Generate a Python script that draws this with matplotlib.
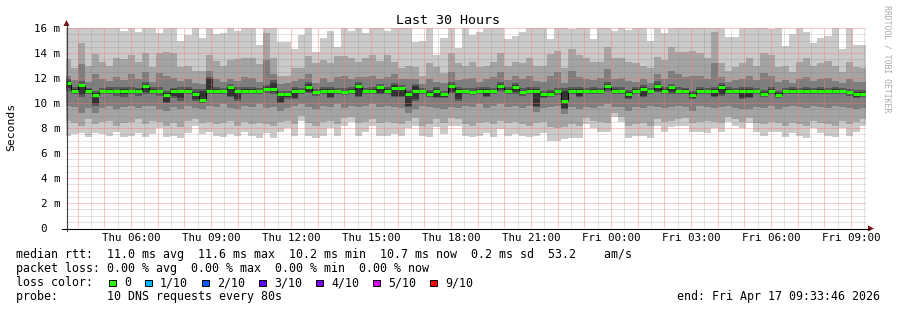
import numpy as np
import matplotlib
matplotlib.use('Agg')
import matplotlib.pyplot as plt
from matplotlib.transforms import blended_transform_factory, offset_copy
from matplotlib.patches import Polygon, Rectangle
from matplotlib.lines import Line2D
import datetime as dt

W, H = 897, 310
FONT = 'DejaVu Sans Mono'

# ---------------- data ----------------
start = dt.datetime(2026, 4, 16, 3, 33, 46)
end = dt.datetime(2026, 4, 17, 9, 33, 46)
step_s = 960          # consolidation step of each smoke column
first_edge_s = 634    # seconds from start to first column boundary

# light band top (ping 10)
t1 = [16, 16, 16, 16, 16, 16, 16, 16, 15.8, 16, 15.7, 16, 16, 15.6, 16, 16, 15.0, 15.4, 16, 15.2, 16, 15.5, 15.6, 16,
      15.75, 16, 16, 14.6, 16, 16, 14.9, 14.9, 14.3, 15.4, 16, 14.1, 15.2, 15.75, 14.5, 16, 15.75, 16, 15.6, 16, 16, 15.75,
      16, 16, 16, 14.9, 15.0, 16, 13.8, 15.2, 16, 14.4, 16, 15.4, 15.7, 16, 16, 16, 15.1, 15.4, 15.7, 16, 16, 16, 15.1,
      16, 16, 15.9, 16, 16, 15.1, 16, 16, 15.8, 16, 15.85, 16, 16, 15.0, 16, 15.6, 16, 16, 16, 16, 16, 16,
      16, 16, 15.3, 15.3, 16, 16, 16, 16, 15.9, 16, 14.6, 15.5, 16, 15.7, 14.8, 15.2, 15.4, 16, 14.3, 16, 14.6, 14.65]
# ping 9
t2 = [13.5, 12.8, 14.8, 13.0, 13.9, 13.3, 13.0, 13.6, 13.5, 13.8, 13.3, 14.0, 12.9, 14.0, 14.1, 14.0, 12.9, 13.0, 12.6, 12.6, 13.8, 13.4, 13.0, 13.4,
      13.5, 13.6, 13.6, 13.1, 15.6, 13.6, 12.2, 12.2, 12.8, 12.8, 13.8, 13.2, 13.4, 13.2, 13.8, 13.8, 13.6, 13.3, 13.6, 13.8, 13.4, 13.8,
      13.3, 12.8, 13.0, 12.9, 12.2, 13.2, 12.9, 12.4, 14.0, 13.2, 13.0, 13.3, 12.9, 13.0, 13.3, 14.0, 13.0, 13.3, 13.2, 13.6, 13.0, 13.0, 13.9,
      14.2, 12.8, 14.3, 13.8, 13.6, 13.3, 13.3, 14.5, 13.6, 13.6, 13.3, 13.2, 13.0, 12.8, 13.7, 13.4, 14.5, 14.1, 14.1, 14.2, 14.0, 13.6,
      15.7, 13.2, 12.6, 12.9, 13.2, 13.6, 13.0, 14.0, 13.8, 12.9, 13.0, 12.5, 13.3, 13.6, 13.0, 13.2, 13.4, 13.0, 12.5, 13.3, 12.9, 12.8]
# ping 8
t3 = [12.2, 11.8, 13.1, 11.7, 12.3, 11.9, 11.8, 12.1, 11.8, 12.3, 11.9, 12.5, 11.7, 12.4, 12.2, 12.0, 11.8, 11.9, 11.6, 11.5, 12.6, 11.9, 11.7, 11.9,
      11.8, 12.1, 12.0, 11.7, 13.4, 12.3, 11.5, 11.6, 11.8, 11.9, 12.3, 11.6, 12.0, 11.7, 12.1, 12.2, 11.9, 12.1, 12.1, 12.2, 11.9, 12.1,
      12.3, 11.9, 11.9, 11.9, 11.5, 11.9, 11.7, 11.6, 12.5, 11.8, 11.9, 12.0, 11.7, 11.9, 12.1, 12.5, 11.8, 12.2, 11.9, 12.2, 11.8, 11.7, 12.2,
      12.5, 11.6, 12.6, 12.1, 11.9, 11.8, 12.0, 12.7, 11.9, 12.0, 11.8, 11.7, 11.9, 11.6, 12.3, 11.9, 12.6, 12.3, 12.1, 12.2, 12.2, 11.9,
      13.2, 12.1, 11.7, 11.8, 11.9, 12.2, 11.8, 12.4, 12.2, 11.7, 11.8, 11.6, 11.9, 12.1, 11.8, 11.9, 12.0, 11.8, 11.6, 11.9, 11.7, 11.7]
# ping 7
t4 = [11.9, 11.25, 11.8, 11.2, 11.0, 11.2, 11.3, 11.3, 11.25, 11.3, 11.2, 11.7, 11.25, 11.3, 11.0, 11.2, 11.3, 11.25, 11.1, 11.1, 12.1, 11.3, 11.2, 11.55,
      11.25, 11.3, 11.3, 11.2, 11.45, 11.8, 11.0, 11.0, 11.3, 11.2, 11.65, 11.1, 11.3, 11.25, 11.2, 11.2, 11.3, 11.7, 11.2, 11.3, 11.55, 11.25,
      11.6, 11.45, 11.05, 11.55, 11.2, 11.05, 11.3, 11.0, 11.65, 11.25, 11.2, 11.2, 11.3, 11.25, 11.2, 11.65, 11.25, 11.6, 11.2, 11.3, 11.25, 11.0, 11.05,
      11.2, 11.2, 11.3, 11.25, 11.2, 11.3, 11.2, 11.7, 11.25, 11.3, 11.05, 11.25, 11.45, 11.2, 11.75, 11.25, 11.55, 11.3, 11.2, 11.0, 11.3, 11.2,
      11.3, 11.6, 11.25, 11.2, 11.3, 11.25, 11.2, 11.05, 11.3, 11.0, 11.2, 11.3, 11.2, 11.3, 11.2, 11.3, 11.2, 11.3, 11.2, 11.15, 11.05, 11.0]
# ping 6
t5 = [11.75, 11.1, 11.55, 11.1, 10.8, 11.05, 11.1, 11.05, 11.15, 11.05, 11.1, 11.5, 11.1, 11.05, 10.8, 11.1, 11.05, 11.1, 10.9, 10.95, 12.0, 11.1, 11.05, 11.35,
      11.05, 11.15, 11.1, 11.05, 11.25, 11.6, 10.8, 10.8, 11.1, 11.05, 11.5, 10.95, 11.1, 11.1, 11.05, 11.0, 11.1, 11.5, 11.05, 11.1, 11.4, 11.1,
      11.45, 11.3, 10.85, 11.4, 11.05, 10.85, 11.1, 10.8, 11.5, 11.1, 11.05, 11.0, 11.1, 11.1, 11.05, 11.5, 11.1, 11.45, 11.0, 11.1, 11.1, 10.8, 10.85,
      11.05, 11.0, 11.1, 11.1, 11.05, 11.1, 11.05, 11.5, 11.1, 11.05, 10.85, 11.1, 11.3, 11.05, 11.55, 11.1, 11.4, 11.05, 11.1, 10.8, 11.1, 11.05,
      11.1, 11.4, 11.1, 11.05, 11.1, 11.1, 11.05, 10.85, 11.1, 10.8, 11.05, 11.1, 11.05, 11.1, 11.05, 11.1, 11.05, 11.1, 11.05, 11.0, 10.85, 10.85]
# median rtt (ms)
med = [11.6, 11.0, 11.45, 11.0, 10.65, 11.0, 11.0, 11.0, 11.0, 11.0, 11.0, 11.4, 11.0, 11.0, 10.65, 11.0, 11.0, 11.0, 10.75, 10.25, 11.0, 11.0, 11.0, 11.25,
       11.0, 11.0, 11.0, 11.0, 11.15, 11.15, 10.7, 10.7, 11.0, 11.0, 11.3, 10.85, 11.0, 11.0, 11.0, 10.9, 11.0, 11.4, 11.0, 11.0, 11.3, 11.0,
       11.2, 11.2, 10.75, 11.0, 11.0, 10.75, 11.0, 10.7, 11.4, 11.0, 11.0, 10.9, 11.0, 11.0, 11.0, 11.4, 11.0, 11.3, 10.9, 11.0, 11.0, 10.7, 10.75,
       10.95, 10.2, 11.0, 11.0, 11.0, 11.0, 11.0, 11.4, 11.0, 11.0, 10.75, 11.0, 11.1, 11.0, 11.4, 11.0, 11.3, 11.0, 11.0, 10.67, 11.0, 11.0,
       11.0, 11.3, 11.0, 11.0, 11.0, 11.0, 11.0, 10.75, 11.0, 10.67, 11.0, 11.0, 11.0, 11.0, 11.0, 11.0, 11.0, 11.0, 11.0, 10.9, 10.75, 10.75]
# ping 5
b5 = [11.2, 10.9, 10.75, 10.8, 9.9, 10.9, 10.85, 10.9, 10.7, 10.9, 10.85, 10.85, 10.9, 10.85, 10.1, 10.55, 10.4, 10.9, 10.3, 10.15, 10.85, 10.9, 10.85, 10.6,
      10.3, 10.9, 10.85, 10.9, 11.0, 10.85, 10.1, 10.5, 10.4, 10.9, 10.9, 10.7, 10.9, 10.5, 10.85, 10.8, 10.9, 10.6, 10.85, 10.9, 10.8, 10.85,
      10.6, 10.6, 9.8, 10.3, 10.9, 10.6, 10.5, 10.5, 10.9, 10.3, 10.85, 10.8, 10.9, 10.6, 10.9, 11.1, 10.9, 10.9, 10.75, 10.85, 9.8, 10.5, 10.6,
      10.8, 9.6, 10.9, 10.6, 10.9, 10.85, 10.9, 11.1, 10.9, 10.85, 10.4, 10.9, 10.6, 10.85, 11.0, 10.9, 10.9, 10.85, 10.9, 10.4, 10.9, 10.85,
      10.6, 10.7, 10.9, 10.85, 10.4, 10.5, 10.9, 10.6, 10.85, 10.5, 10.9, 10.85, 10.9, 10.85, 10.9, 10.85, 10.9, 10.85, 10.9, 10.75, 10.5, 10.55]
# ping 4
b4 = [10.95, 10.7, 10.5, 10.7, 9.8, 10.7, 10.7, 10.6, 10.5, 10.7, 10.6, 10.7, 10.7, 10.6, 10.0, 10.4, 10.2, 10.7, 10.2, 10.0, 10.7, 10.7, 10.7, 10.45,
      10.2, 10.7, 10.7, 10.75, 10.8, 10.7, 10.0, 10.35, 10.3, 10.75, 10.8, 10.55, 10.7, 10.4, 10.7, 10.65, 10.75, 10.5, 10.7, 10.7, 10.7, 10.7,
      10.5, 10.45, 9.7, 10.2, 10.7, 10.45, 10.4, 10.4, 10.8, 10.2, 10.7, 10.65, 10.75, 10.5, 10.7, 10.95, 10.75, 10.75, 10.6, 10.7, 9.7, 10.4, 10.5,
      10.65, 9.5, 10.75, 10.45, 10.75, 10.7, 10.75, 10.95, 10.7, 10.7, 10.3, 10.75, 10.5, 10.7, 10.85, 10.75, 10.75, 10.7, 10.75, 10.3, 10.75, 10.7,
      10.5, 10.6, 10.75, 10.7, 10.3, 10.4, 10.75, 10.5, 10.7, 10.4, 10.75, 10.7, 10.75, 10.7, 10.75, 10.7, 10.75, 10.7, 10.75, 10.6, 10.4, 10.45]
# ping 3
b3 = [9.8, 9.7, 9.2, 9.6, 9.2, 9.6, 9.8, 9.5, 9.7, 9.8, 9.6, 9.8, 9.8, 9.5, 9.4, 9.7, 9.5, 9.8, 9.6, 9.5, 9.8, 9.7, 9.9, 9.6,
      9.5, 9.8, 9.7, 9.9, 9.6, 9.7, 9.4, 9.6, 9.8, 9.9, 9.7, 9.5, 9.8, 9.7, 9.9, 9.6, 9.8, 9.7, 9.8, 9.9, 9.7, 9.8,
      9.7, 9.6, 9.2, 9.5, 9.8, 9.7, 9.6, 9.5, 9.7, 9.6, 9.8, 9.7, 9.9, 9.6, 9.8, 9.9, 9.7, 9.8, 9.6, 9.8, 9.3, 9.6, 9.7,
      9.8, 9.1, 9.7, 9.5, 9.7, 9.6, 9.8, 9.9, 9.7, 9.7, 9.4, 9.7, 9.6, 9.8, 9.7, 9.6, 9.7, 9.8, 9.7, 9.4, 9.8, 9.7,
      9.6, 9.7, 9.8, 9.6, 9.5, 9.5, 9.7, 9.6, 9.8, 9.5, 9.7, 9.8, 9.7, 9.6, 9.8, 9.7, 9.6, 9.8, 9.7, 9.6, 9.5, 9.6]
# ping 2
b2 = [8.6, 8.4, 8.2, 8.7, 8.3, 8.5, 8.6, 8.2, 8.4, 8.5, 8.7, 8.3, 8.6, 8.5, 8.2, 8.4, 8.1, 8.6, 8.7, 8.4, 8.5, 8.3, 8.4, 8.6,
      8.2, 8.5, 8.3, 8.4, 8.3, 8.2, 8.5, 8.6, 8.3, 9.0, 8.4, 8.2, 8.5, 8.6, 8.3, 8.8, 8.9, 8.4, 8.5, 8.7, 8.4, 8.5,
      8.4, 8.3, 8.6, 8.8, 8.2, 8.3, 8.7, 8.4, 8.8, 8.7, 8.3, 8.2, 8.4, 8.5, 8.3, 8.6, 8.4, 8.5, 8.3, 8.2, 8.4, 8.5, 8.1,
      8.0, 8.1, 8.3, 8.2, 8.8, 8.6, 8.5, 8.4, 9.2, 8.9, 8.2, 8.3, 8.4, 8.2, 8.7, 8.5, 8.6, 8.7, 8.8, 8.4, 8.5, 8.6,
      8.5, 8.4, 8.9, 8.7, 8.5, 8.8, 8.4, 8.3, 8.5, 8.4, 8.2, 8.4, 8.3, 8.2, 8.6, 8.4, 8.3, 8.2, 8.6, 8.3, 8.5, 8.7]
# ping 1 (light band bottom)
b1 = [7.4, 7.5, 7.6, 7.3, 7.6, 7.5, 7.4, 7.7, 7.3, 7.4, 7.6, 7.3, 7.5, 8.0, 7.3, 7.4, 7.2, 7.6, 8.2, 7.5, 7.7, 7.4, 7.3, 7.5,
      7.4, 7.7, 7.4, 7.2, 7.6, 7.2, 7.7, 8.0, 7.4, 8.6, 7.4, 7.2, 7.4, 8.0, 7.4, 8.2, 8.5, 7.4, 7.7, 8.2, 7.4, 7.4,
      7.5, 7.4, 8.0, 8.2, 7.4, 7.3, 8.1, 7.5, 8.2, 8.2, 7.4, 7.3, 7.4, 7.6, 7.3, 7.9, 7.4, 7.5, 7.4, 7.3, 7.4, 7.6, 7.0,
      7.0, 7.1, 7.2, 7.2, 8.3, 8.0, 7.7, 7.7, 8.9, 8.5, 7.2, 7.4, 7.4, 7.2, 8.2, 7.7, 8.1, 8.2, 8.2, 7.7, 7.7, 7.6,
      8.0, 7.7, 8.5, 8.2, 8.0, 8.4, 7.7, 7.4, 7.7, 7.7, 7.3, 7.6, 7.4, 7.2, 8.0, 7.6, 7.4, 7.3, 8.0, 7.4, 7.7, 8.2]

xtick_labels = ['Thu 06:00', 'Thu 09:00', 'Thu 12:00', 'Thu 15:00', 'Thu 18:00',
                'Thu 21:00', 'Fri 00:00', 'Fri 03:00', 'Fri 06:00', 'Fri 09:00']
xtick_times = [dt.datetime(2026, 4, 16, 6), dt.datetime(2026, 4, 16, 9), dt.datetime(2026, 4, 16, 12),
               dt.datetime(2026, 4, 16, 15), dt.datetime(2026, 4, 16, 18), dt.datetime(2026, 4, 16, 21),
               dt.datetime(2026, 4, 17, 0), dt.datetime(2026, 4, 17, 3), dt.datetime(2026, 4, 17, 6),
               dt.datetime(2026, 4, 17, 9)]
ytick_values = [0, 2, 4, 6, 8, 10, 12, 14, 16]
ytick_labels = ['0', '2 m', '4 m', '6 m', '8 m', '10 m', '12 m', '14 m', '16 m']

loss_labels = ['0', '1/10', '2/10', '3/10', '4/10', '5/10', '9/10']
loss_colors = ['#26ff00', '#00b8ff', '#0059ff', '#5e00ff', '#7e00ff', '#dd00ff', '#ff0000']

legend_median = 'median rtt:  11.0 ms avg  11.6 ms max  10.2 ms min  10.7 ms now  0.2 ms sd  53.2    am/s'
legend_loss = 'packet loss: 0.00 % avg  0.00 % max  0.00 % min  0.00 % now'
legend_probe = 'probe:       10 DNS requests every 80s'
legend_end = 'end: Fri Apr 17 09:33:46 2026'
title = 'Last 30 Hours'

smoke_colors = ['#cacaca', '#a4a4a4', '#7e7e7e', '#585858', '#323232']

# ---------------- drawing ----------------
def hrs(t):
    return (t - start).total_seconds() / 3600.0

total_h = hrs(end)
n = min(len(a) for a in [t1, t2, t3, t4, t5, med, b5, b4, b3, b2, b1])
edges = np.concatenate([[0.0], (first_edge_s + step_s * np.arange(n)) / 3600.0])
edges = np.minimum(edges, total_h)
left = edges[:-1]
width = np.diff(edges)

fig = plt.figure(figsize=(W / 100, H / 100), dpi=100)
fig.patch.set_facecolor('white')
ax = fig.add_axes([66 / W, (H - 228) / H, 800 / W, 200 / H])
ax.set_xlim(0, total_h)
ax.set_ylim(0, 16)
ax.set_axis_off()

lows = [b1, b2, b3, b4, b5]
highs = [t1, t2, t3, t4, t5]
for lo, hi, c in zip(lows, highs, smoke_colors):
    lo = np.asarray(lo[:n], float)
    hi = np.asarray(hi[:n], float)
    ax.bar(left, hi - lo, width=width, bottom=lo, align='edge', color=c,
           linewidth=0, antialiased=False, zorder=1)

# grid (1 px on / 1 px off dots)
dots = (0, (1, 1))
minor_c = (0.45, 0.45, 0.45, 0.2)
major_c = (1.0, 0.45, 0.45, 0.4)
for v in np.arange(0.5, 16.01, 0.5):
    if abs(v % 2) < 1e-9:
        continue
    ax.axhline(v, color=minor_c, lw=0.72, ls=dots, zorder=2, antialiased=False)
for v in ytick_values[1:]:
    ax.axhline(v, color=major_c, lw=0.72, ls=dots, zorder=2, antialiased=False)
t = dt.datetime(2026, 4, 16, 4)
while t < end:
    ax.axvline(hrs(t), color=major_c, lw=0.72, ls=dots, zorder=2, antialiased=False)
    th = t + dt.timedelta(minutes=30)
    if th < end:
        ax.axvline(hrs(th), color=minor_c, lw=0.72, ls=dots, zorder=2, antialiased=False)
    t += dt.timedelta(hours=1)

# median
medv = np.asarray(med[:n], float)
ax.stairs(medv, edges, baseline=None, color='#000000', lw=0.8, zorder=3)
ax.hlines(medv, left, edges[1:], color=loss_colors[0], lw=2.2, zorder=4)

# axes lines and arrows (figure pixel coords)
def fx(x):
    return x / W

def fy(y):
    return 1 - y / H

fig.add_artist(Line2D([fx(66.5), fx(66.5)], [fy(231), fy(24)], color='#404040', lw=0.8))
fig.add_artist(Line2D([fx(62), fx(869)], [fy(228.5), fy(228.5)], color='#000000', lw=0.8))
fig.add_artist(Polygon([[fx(63.5), fy(26)], [fx(69.5), fy(26)], [fx(66.5), fy(20)]],
                       closed=True, color='#7a1010', lw=0))
fig.add_artist(Polygon([[fx(868), fy(225.5)], [fx(868), fy(231.5)], [fx(874), fy(228.5)]],
                       closed=True, color='#7a1010', lw=0))

# tick labels
axis_fs = 7.8
ytrans = offset_copy(blended_transform_factory(fig.transFigure, ax.transData), fig=fig, y=-3.6, units='dots')
for v, lab in zip(ytick_values, ytick_labels):
    xr = 60 if lab != '0' else 47
    ax.text(fx(xr), v, lab, transform=ytrans, ha='right', va='baseline',
            fontsize=axis_fs, family=FONT, color='black')
xtrans = blended_transform_factory(ax.transData, fig.transFigure)
for tt, lab in zip(xtick_times, xtick_labels):
    ax.text(hrs(tt), fy(238), lab, transform=xtrans, ha='center', va='center',
            fontsize=axis_fs, family=FONT, color='black', clip_on=False)

# title, y label, watermark
fig.text(fx(448), fy(20), title, ha='center', va='center', fontsize=9.6, family=FONT)
fig.text(fx(11), fy(127), 'Seconds', rotation=90, ha='center', va='center', fontsize=8.2, family=FONT)
fig.text(fx(887), fy(5), 'RRDTOOL / TOBI OETIKER', rotation=270, ha='center', va='top',
         fontsize=5.9, family=FONT, color='#aaaaaa')

# legend
leg_fs = 8.4
fig.text(fx(16), fy(258), legend_median, ha='left', va='baseline', fontsize=leg_fs, family=FONT)
fig.text(fx(16), fy(272), legend_loss, ha='left', va='baseline', fontsize=leg_fs, family=FONT)
fig.text(fx(16), fy(286), 'loss color:', ha='left', va='baseline', fontsize=leg_fs, family=FONT)
fig.text(fx(16), fy(300), legend_probe, ha='left', va='baseline', fontsize=leg_fs, family=FONT)
fig.text(fx(880), fy(300), legend_end, ha='right', va='baseline', fontsize=leg_fs, family=FONT)

bx = 109.0
for lab, c in zip(loss_labels, loss_colors):
    fig.add_artist(Rectangle((fx(bx), fy(286)), 6.5 / W, 6.5 / H, facecolor=c,
                             edgecolor='black', lw=0.7))
    fig.text(fx(bx + 15), fy(286), lab, ha='left', va='baseline', fontsize=leg_fs, family=FONT)
    bx += 15 + 7.0 * len(lab) + 14

fig.savefig('out.png', dpi=100, facecolor='white')
